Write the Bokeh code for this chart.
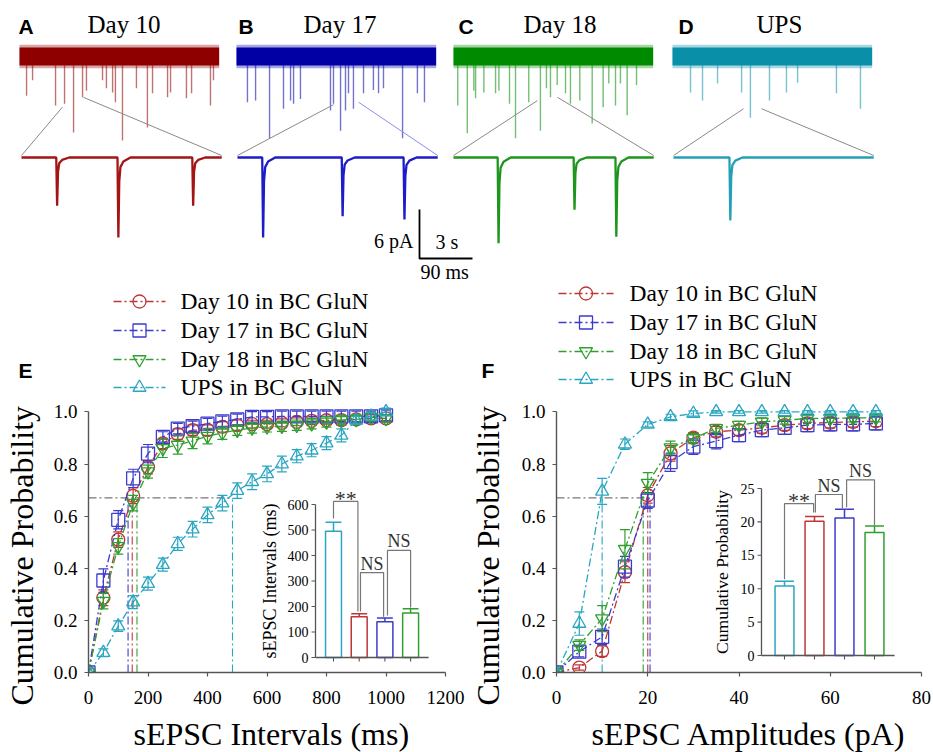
from math import pi
from bokeh.plotting import figure
from bokeh.layouts import column, row
from bokeh.models import Range1d, Title, FixedTicker, NumeralTickFormatter
from bokeh.core.properties import value
from bokeh.embed import file_html
from bokeh.resources import INLINE

SERIF = "Liberation Serif"
SANS = "Liberation Sans"

# ======================= DATA =======================
# --- A-D: recordings (events) ---
panel_letters = ["A", "B", "C", "D"]
panel_titles = ["Day 10", "Day 17", "Day 18", "UPS"]
overview_duration_s = 11.3
zoom_duration_ms = 340
overview_noise_pA = 1.1
scale_pA = 6
scale_s = 3
scale_ms = 90

ovA_t = [0.40, 0.74, 2.04, 2.55, 3.06, 3.57, 3.79, 4.70, 4.92, 5.27, 5.43, 5.83, 6.62, 7.24, 7.53, 8.38, 8.55, 9.45, 9.74, 10.81, 10.98]
ovA_amp = [4.8, 2.9, 6.0, 5.8, 9.3, 5.0, 4.2, 2.9, 3.9, 4.4, 5.6, 10.3, 3.9, 8.7, 4.5, 5.0, 4.4, 5.1, 4.5, 6.0, 2.9]
ovB_t = [0.62, 1.08, 1.87, 2.66, 3.06, 3.23, 3.62, 5.32, 5.49, 5.89, 6.17, 6.34, 6.62, 7.19, 7.75, 8.04, 8.32, 9.40, 10.24, 10.64]
ovB_amp = [5.6, 5.4, 10.0, 6.4, 5.4, 5.8, 5.2, 6.6, 5.8, 9.1, 6.6, 4.5, 6.4, 4.5, 4.1, 4.5, 3.9, 10.0, 4.5, 5.6]
ovC_t = [0.24, 0.78, 1.15, 1.25, 1.72, 2.38, 2.57, 3.17, 3.51, 4.26, 4.92, 5.26, 5.49, 5.87, 6.34, 6.62, 7.15, 7.85, 8.47, 8.79, 9.17, 9.45, 9.83, 10.36]
ovC_amp = [6.0, 9.4, 4.2, 5.1, 4.4, 4.5, 4.2, 5.8, 10.0, 5.6, 9.1, 3.9, 5.0, 3.5, 4.5, 5.8, 5.4, 8.2, 6.2, 3.3, 6.0, 3.3, 7.2, 3.5]
ovD_t = [1.02, 1.70, 2.55, 3.91, 4.41, 5.49, 6.45, 7.08, 9.28, 10.64]
ovD_amp = [4.4, 5.4, 3.3, 4.4, 7.5, 5.4, 4.4, 3.2, 4.5, 6.4]

zmA_t = [59, 163, 290]
zmA_amp = [5.9, 9.8, 5.9]
zmB_t = [42, 177, 282]
zmB_amp = [9.8, 7.2, 7.6]
zmC_t = [75, 204, 275]
zmC_amp = [10.5, 6.4, 9.7]
zmD_t = [95]
zmD_amp = [7.7]

# zoomed window in the overview (s) for each panel
zoom_window_s = [(2.43, 3.62), (5.49, 6.91), (4.75, 5.89), (4.02, 5.04)]

# --- E / F: cumulative probabilities ---
series_names = ["Day 10 in BC GluN", "Day 17 in BC GluN", "Day 18 in BC GluN", "UPS in BC GluN"]

interval_ms = [0, 50, 100, 150, 200, 250, 300, 350, 400, 450, 500, 550, 600, 650, 700, 750, 800, 850, 900, 950, 1000]
int_day10 = [0, 0.287, 0.51, 0.678, 0.787, 0.879, 0.915, 0.93, 0.93, 0.943, 0.949, 0.953, 0.953, 0.958, 0.962, 0.966, 0.968, 0.968, 0.971, 0.975, 0.975]
int_day17 = [0, 0.353, 0.586, 0.745, 0.84, 0.904, 0.936, 0.945, 0.955, 0.964, 0.971, 0.981, 0.981, 0.983, 0.983, 0.983, 0.983, 0.983, 0.983, 0.983, 0.987]
int_day18 = [0, 0.274, 0.484, 0.65, 0.771, 0.86, 0.873, 0.889, 0.907, 0.92, 0.93, 0.939, 0.943, 0.945, 0.949, 0.955, 0.962, 0.968, 0.971, 0.98, 0.975]
int_ups = [0, 0.076, 0.178, 0.27, 0.341, 0.414, 0.494, 0.55, 0.605, 0.65, 0.698, 0.732, 0.762, 0.8, 0.83, 0.853, 0.88, 0.91, 0.968, 0.983, 1.0]
int_err_day10 = [0, .03, .03, .03, .025, .02, .02, .02, .02, .02, .02, .015, .015, .015, .015, .015, .015, .015, .015, .015, .015]
int_err_day17 = [0, .045, .035, .035, .035, .02, .02, .02, .02, .02, .02, .02, .02, .02, .02, .02, .02, .02, .02, .02, .02]
int_err_day18 = [0, .03, .03, .03, .025, .035, .035, .03, .03, .025, .02, .02, .02, .02, .02, .02, .02, .02, .02, .015, .015]
int_err_ups = [0, .015, .02, .025, .025, .025, .025, .03, .03, .03, .03, .03, .03, .03, .025, .025, .025, .025, .015, .015, .015]

amplitude_pA = [0, 5, 10, 15, 20, 25, 30, 35, 40, 45, 50, 55, 60, 65, 70]
amp_day10 = [0, 0.019, 0.082, 0.385, 0.68, 0.841, 0.901, 0.924, 0.93, 0.939, 0.949, 0.956, 0.959, 0.962, 0.964]
amp_day17 = [0, 0.08, 0.137, 0.406, 0.66, 0.807, 0.867, 0.888, 0.911, 0.93, 0.939, 0.949, 0.952, 0.952, 0.956]
amp_day18 = [0, 0.105, 0.207, 0.473, 0.727, 0.863, 0.898, 0.937, 0.949, 0.962, 0.968, 0.975, 0.975, 0.977, 0.977]
amp_ups = [0, 0.188, 0.695, 0.876, 0.952, 0.981, 0.994, 1.0, 1.0, 1.0, 1.0, 1.0, 1.0, 1.0, 1.0]
amp_err_day10 = [0, .01, .02, .04, .03, .03, .02, .02, .02, .02, .02, .02, .02, .02, .02]
amp_err_day17 = [0, .02, .03, .04, .03, .035, .03, .03, .025, .025, .025, .025, .025, .025, .025]
amp_err_day18 = [0, .02, .05, .075, .04, .025, .02, .015, .015, .015, .015, .015, .015, .015, .015]
amp_err_ups = [0, .045, .05, .02, .01, .01, .01, .005, .005, .005, .005, .005, .005, .005, .005]

half_level = 0.67
interval_median_ms = [147, 133, 163, 484]
amplitude_median_pA = [20.0, 20.5, 19.0, 10.0]

# --- insets ---
bar_groups = ["UPS", "Day 10", "Day 17", "Day 18"]
interval_bar_mean = [495, 160, 140, 175]
interval_bar_sem = [35, 12, 15, 16]
amplitude_bar_mean = [10.4, 20.1, 20.6, 18.4]
amplitude_bar_sem = [0.7, 0.7, 1.3, 1.0]
interval_inset_ticks = [0, 100, 200, 300, 400, 500, 600]
amplitude_inset_ticks = [0, 5, 10, 15, 20, 25]
significance = ["**", "NS", "NS"]

# ======================= STYLE / LAYOUT =======================
C_RED, C_BLUE, C_GREEN, C_CYAN = "#bf3636", "#3b3bcc", "#2f9f2f", "#2aa6c2"
series_colors = [C_RED, C_BLUE, C_GREEN, C_CYAN]
series_markers = ["circle", "square", "inverted_triangle", "triangle"]
bar_colors = [C_CYAN, C_RED, C_BLUE, C_GREEN]
band_colors = ["#8e0000", "#0000a5", "#008a00", "#0a8fa8"]
zoom_colors = ["#a31515", "#1c1cc8", "#1e961e", "#23a0b8"]
guide_colors = [("#8a8a8a", "#8a8a8a"), ("#8a8a8a", "#8c8cf0"), ("#8a8a8a", "#8a8a8a"), ("#8a8a8a", "#8a8a8a")]
AXIS_C = "#555555"
DASHDOT = "8 3 2 3"

TOP_W, TOP_H = 933, 400
OV_LEFT = [19, 236, 453, 672]
ZM_LEFT = [21, 237, 453, 673]
OV_BASE_Y, ZM_BASE_Y = 56, 157
PX_PER_PA = 49 / 6
PX_PER_S = 53 / 3
PX_PER_MS = 53 / 90
guide_levels_pA = [(6.2, 5.0), (5.9, 5.6), (5.4, 5.0), (6.4, 6.4)]
LETTER_X = [18, 238, 458, 678]
TITLE_X = [87, 303, 523, 756]

EVENT_SHAPE_MS = [0, 1.5, 3, 5, 10, 22]
EVENT_SHAPE_FRAC = [0, 1, 0.3, 0.12, 0.05, 0]

# legends of E and F (drawn in the top canvas)
LEG_E = dict(x0=113, x1=165, tx=180, rows=[301, 330, 359, 387], letter=(18, 370))
LEG_F = dict(x0=558, x1=613, tx=629, rows=[293, 322, 351, 379], letter=(481, 370))

# ======================= TOP CANVAS =======================
pt = figure(width=TOP_W, height=TOP_H, x_range=Range1d(0, TOP_W), y_range=Range1d(TOP_H, 0),
            output_backend="svg", toolbar_location=None, x_axis_location=None, y_axis_location=None,
            min_border=0)
pt.grid.visible = False
pt.outline_line_color = None

pt.extra_y_ranges = {
    "ovy": Range1d(-(TOP_H - OV_BASE_Y) / PX_PER_PA, OV_BASE_Y / PX_PER_PA),
    "zmy": Range1d(-(TOP_H - ZM_BASE_Y) / PX_PER_PA, ZM_BASE_Y / PX_PER_PA),
}
xr = {}
for k in range(4):
    xr[f"ov{k}"] = Range1d(-OV_LEFT[k] / PX_PER_S, (TOP_W - OV_LEFT[k]) / PX_PER_S)
    xr[f"zm{k}"] = Range1d(-ZM_LEFT[k] / PX_PER_MS, (TOP_W - ZM_LEFT[k]) / PX_PER_MS)
pt.extra_x_ranges = xr

ov_events = [(ovA_t, ovA_amp), (ovB_t, ovB_amp), (ovC_t, ovC_amp), (ovD_t, ovD_amp)]
zm_events = [(zmA_t, zmA_amp), (zmB_t, zmB_amp), (zmC_t, zmC_amp), (zmD_t, zmD_amp)]

for k in range(4):
    ts, amps = ov_events[k]
    pt.segment(x0=ts, y0=[0] * len(ts), x1=ts, y1=[-a for a in amps], x_range_name=f"ov{k}",
               y_range_name="ovy", line_color=band_colors[k], line_alpha=0.55, line_width=1.4)
    pt.quad(left=[0], right=[overview_duration_s], bottom=[-overview_noise_pA * 1.3], top=[overview_noise_pA * 1.3],
            x_range_name=f"ov{k}", y_range_name="ovy", fill_color=band_colors[k], fill_alpha=0.35, line_color=None)
    pt.quad(left=[0], right=[overview_duration_s], bottom=[-overview_noise_pA], top=[overview_noise_pA],
            x_range_name=f"ov{k}", y_range_name="ovy", fill_color=band_colors[k], line_color=None)
    zt, za = zm_events[k]
    xs, ys = [0], [0]
    for t, a in zip(zt, za):
        for dt, f in zip(EVENT_SHAPE_MS, EVENT_SHAPE_FRAC):
            xs.append(t + dt)
            ys.append(-a * f)
    xs.append(zoom_duration_ms)
    ys.append(0)
    pt.line(xs, ys, x_range_name=f"zm{k}", y_range_name="zmy", line_color=zoom_colors[k], line_width=2.3)

    w0, w1 = zoom_window_s[k]
    l0, l1 = guide_levels_pA[k]
    zx0 = ZM_LEFT[k]
    zx1 = ZM_LEFT[k] + zoom_duration_ms * PX_PER_MS
    ox0 = OV_LEFT[k] + w0 * PX_PER_S
    ox1 = OV_LEFT[k] + w1 * PX_PER_S
    pt.segment(x0=[zx0], y0=[ZM_BASE_Y - 2], x1=[ox0], y1=[OV_BASE_Y + l0 * PX_PER_PA],
               line_color=guide_colors[k][0], line_width=1)
    pt.segment(x0=[ox1], y0=[OV_BASE_Y + l1 * PX_PER_PA], x1=[zx1], y1=[ZM_BASE_Y - 2],
               line_color=guide_colors[k][1], line_width=1)

pt.text(x=LETTER_X, y=[25.5] * 4, text=panel_letters, text_font=value(SANS), text_font_style="bold",
        text_font_size="21px", text_color="black", text_baseline="middle")
pt.text(x=TITLE_X, y=[24] * 4, text=panel_titles, text_font=value(SERIF),
        text_font_size="25px", text_color="black", text_baseline="middle")

# scale bar
SB_X, SB_Y = 419, 258
pt.line([SB_X, SB_X, SB_X + scale_s * PX_PER_S], [SB_Y - scale_pA * PX_PER_PA, SB_Y, SB_Y],
        line_color="black", line_width=1.8)
pt.text(x=[SB_X - 6], y=[SB_Y - 18], text=[f"{scale_pA} pA"], text_font=value(SERIF), text_font_size="20px",
        text_align="right", text_baseline="middle")
pt.text(x=[SB_X + 16], y=[SB_Y - 17], text=[f"{scale_s} s"], text_font=value(SERIF), text_font_size="20px",
        text_align="left", text_baseline="middle")
pt.text(x=[SB_X + 1], y=[SB_Y + 13], text=[f"{scale_ms} ms"], text_font=value(SERIF), text_font_size="20px",
        text_align="left", text_baseline="middle")

# legends for E and F + panel letters
for leg, letter in ((LEG_E, "E"), (LEG_F, "F")):
    rows = leg["rows"]
    for yv, c in zip(rows, series_colors):
        pt.line([leg["x0"], leg["x1"]], [yv, yv], line_color=c, line_width=1.3, line_dash=DASHDOT)
    xm = (leg["x0"] + leg["x1"]) / 2
    pt.scatter([xm] * 4, rows, marker=series_markers, size=13, line_color=series_colors,
               line_width=1.3, fill_alpha=0)
    pt.text(x=[leg["tx"]] * 4, y=[r - 1 for r in rows], text=series_names, text_font=value(SERIF),
            text_font_size="23.5px", text_color="black", text_baseline="middle")
    pt.text(x=[leg["letter"][0]], y=[leg["letter"][1]], text=[letter], text_font=value(SANS),
            text_font_style="bold", text_font_size="21px", text_color="black", text_baseline="middle")

# ======================= E / F =======================
FIG_H = 752 - TOP_H
BORDER_TOP = 1
BORDER_BOTTOM = 80
FRAME_H = FIG_H - BORDER_TOP - BORDER_BOTTOM
Y_END = 1.04


def spacer(gap):
    return Title(text=" ", text_font_size="1px", standoff=gap)


def cdf_figure(width, bl, br, xs, ys_list, err_list, x_end, x_ticks, x_label, medians,
               ytitle_offset, ytitle_gap, xtitle_offset):
    p = figure(width=width, height=FIG_H, x_range=Range1d(0, x_end), y_range=Range1d(0, Y_END),
               output_backend="svg", toolbar_location=None,
               min_border_left=bl, min_border_right=br, min_border_top=BORDER_TOP, min_border_bottom=BORDER_BOTTOM)
    p.grid.visible = False
    p.outline_line_color = None
    for ax in (p.xaxis[0], p.yaxis[0]):
        ax.axis_line_color = AXIS_C
        ax.axis_line_width = 1.4
        ax.major_tick_line_color = AXIS_C
        ax.major_tick_line_width = 1.2
        ax.major_tick_out = 4
        ax.major_tick_in = 0
        ax.minor_tick_line_color = None
        ax.major_label_text_font = SERIF
        ax.major_label_text_font_size = "19px"
        ax.major_label_text_color = "black"
    p.xaxis.ticker = FixedTicker(ticks=x_ticks)
    p.yaxis.ticker = FixedTicker(ticks=[0, 0.2, 0.4, 0.6, 0.8, 1.0])
    p.yaxis.formatter = NumeralTickFormatter(format="0.0")
    p.yaxis.bounds = (0, 1)
    p.xaxis.major_label_standoff = 14
    p.yaxis.major_label_standoff = 7
    p.add_layout(spacer(ytitle_gap), "left")
    p.add_layout(Title(text="Cumulative Probability", align="left", offset=ytitle_offset,
                       standoff=0, text_font=SERIF, text_font_size="32px",
                       text_font_style="normal", text_color="black"), "left")
    p.add_layout(spacer(4), "below")
    p.add_layout(Title(text=x_label, align="left", offset=xtitle_offset, standoff=0,
                       text_font=SERIF, text_font_size="32px", text_font_style="normal",
                       text_color="black"), "below")

    p.line([0, max(medians)], [half_level, half_level], line_color="#777777", line_width=1.1, line_dash=DASHDOT)
    for m, c in zip(medians, series_colors):
        p.line([m, m], [0, half_level], line_color=c, line_width=1.1, line_dash=DASHDOT)

    for ys, errs, c, mk in zip(ys_list, err_list, series_colors, series_markers):
        p.line(xs, ys, line_color=c, line_width=1.3, line_dash=DASHDOT)
        lo = [y - e for y, e in zip(ys, errs)]
        hi = [y + e for y, e in zip(ys, errs)]
        p.segment(x0=xs, y0=lo, x1=xs, y1=hi, line_color=c, line_width=1.2)
        p.scatter(xs, hi, marker="dash", size=10, line_color=c, line_width=1.2)
        p.scatter(xs, lo, marker="dash", size=10, line_color=c, line_width=1.2)
        p.scatter(xs, ys, marker=mk, size=13, line_color=c, line_width=1.3, fill_alpha=0)
    return p


def draw_inset(p, frame_w, means, sems, first_px, step_px, zero_px, ppu, ax_x0, ax_x1, ticks,
               ylabel, ylabel_dx_px, ylabel_size, brackets, bar_w):
    p.extra_x_ranges = {"ins": Range1d(1 - first_px / step_px, 1 + (frame_w - first_px) / step_px)}
    p.extra_y_ranges = {"insy": Range1d(-zero_px / ppu, (FRAME_H - zero_px) / ppu)}
    kw = dict(x_range_name="ins", y_range_name="insy")
    idx = [1, 2, 3, 4]
    p.vbar(x=idx, top=means, bottom=0, width=bar_w, fill_color="white", line_color=bar_colors, line_width=1.5, **kw)
    tops = [m + s for m, s in zip(means, sems)]
    p.segment(x0=idx, y0=means, x1=idx, y1=tops, line_color=bar_colors, line_width=1.5, **kw)
    p.scatter(idx, tops, marker="dash", size=bar_w * step_px, line_color=bar_colors, line_width=1.5, **kw)
    p.segment(x0=[ax_x0], y0=[0], x1=[ax_x0], y1=[ticks[-1]], line_color=AXIS_C, line_width=1.3, **kw)
    p.segment(x0=[ax_x0], y0=[0], x1=[ax_x1], y1=[0], line_color=AXIS_C, line_width=1.3, **kw)
    tl = 4 / step_px
    p.segment(x0=[ax_x0 - tl] * len(ticks), y0=ticks, x1=[ax_x0] * len(ticks), y1=ticks,
              line_color=AXIS_C, line_width=1.1, **kw)
    p.segment(x0=idx, y0=[0] * 4, x1=idx, y1=[-4 / ppu] * 4, line_color=AXIS_C, line_width=1.1, **kw)
    p.text(x=[ax_x0] * len(ticks), y=ticks, text=[str(t) for t in ticks], x_offset=-7,
           text_font=value(SERIF), text_font_size="14px", text_align="right", text_baseline="middle",
           text_color="black", **kw)
    p.text(x=[ax_x0 - ylabel_dx_px / step_px], y=[ticks[-1] / 2], text=[ylabel], angle=pi / 2,
           text_font=value(SERIF), text_font_size=ylabel_size, text_align="center", text_baseline="middle",
           text_color="black", **kw)
    for (xl, xr_, ybl, ytop, ybr), lab in zip(brackets, significance):
        p.line([xl, xl, xr_, xr_], [ybl, ytop, ytop, ybr], line_color="#777777", line_width=1.2, **kw)
        if lab == "**":
            p.text(x=[(xl + xr_) / 2], y=[ytop], text=[lab], y_offset=-3, text_font=value(SERIF),
                   text_font_size="22px", text_align="center", text_baseline="middle", text_color="#333333", **kw)
        else:
            p.text(x=[(xl + xr_) / 2], y=[ytop], text=[lab], y_offset=-9, text_font=value(SERIF),
                   text_font_size="18px", text_align="center", text_baseline="middle", text_color="#333333", **kw)


# ---- E ----
E_W, E_BL, E_BR = 466, 88, 21
pE = cdf_figure(E_W, E_BL, E_BR, interval_ms, [int_day10, int_day17, int_day18, int_ups],
                [int_err_day10, int_err_day17, int_err_day18, int_err_ups], 1200,
                [0, 200, 400, 600, 800, 1000, 1200], "sEPSC Intervals (ms)", interval_median_ms,
                -33, 8, 45)
draw_inset(pE, E_W - E_BL - E_BR, interval_bar_mean, interval_bar_sem, 245, 25.7, 15, 0.255, 0.30, 4.70,
           interval_inset_ticks, "sEPSC Intervals (ms)", 46, "18px",
           [(1.0, 1.95, 545, 612, 180), (2.05, 2.95, 180, 333, 160), (3.1, 4.0, 165, 420, 196)], 0.62)

# ---- F ----
F_W, F_BL, F_BR = 467, 90, 12
pF = cdf_figure(F_W, F_BL, F_BR, amplitude_pA, [amp_day10, amp_day17, amp_day18, amp_ups],
                [amp_err_day10, amp_err_day17, amp_err_day18, amp_err_ups], 80,
                [0, 20, 40, 60, 80], "sEPSC Amplitudes (pA)", amplitude_median_pA,
                -33, 10, 35)
draw_inset(pF, F_W - F_BL - F_BR, amplitude_bar_mean, amplitude_bar_sem, 228, 30, 17, 6.68, 0.233, 4.67,
           amplitude_inset_ticks, "Cumulative Probability", 39, "17.5px",
           [(1.0, 1.97, 11.4, 22.75, 21.4), (2.03, 2.93, 21.4, 24.1, 22.0), (3.07, 4.0, 22.2, 26.3, 19.5)], 0.63)

layout = column(pt, row(pE, pF))
with open("out.html", "w") as f:
    f.write(file_html(layout, INLINE))
